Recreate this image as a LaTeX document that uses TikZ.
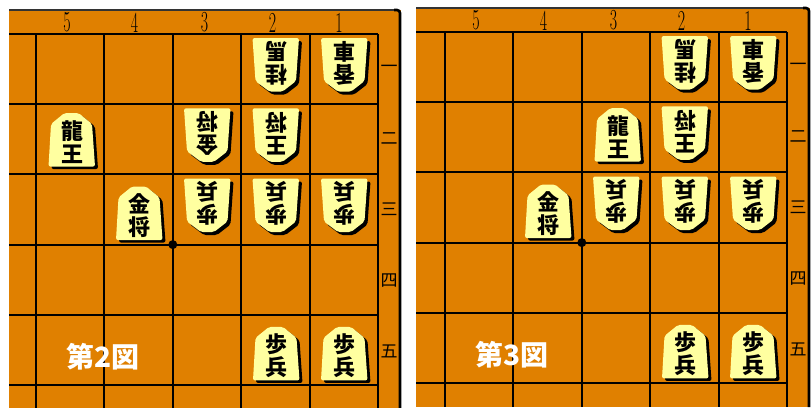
\documentclass[tikz,border=0pt]{standalone}
\usepackage{fontspec}
\newfontfamily\cjk{Noto Sans CJK JP}
\definecolor{boardc}{RGB}{224,128,0}
\definecolor{piecec}{RGB}{255,255,160}
\tikzset{
  gridline/.style={black, line width=2.1pt},
  kanji/.style={font=\cjk\bfseries\fontsize{22}{23}\selectfont, align=center, inner sep=0pt, text=black},
  filelabel/.style={font=\fontsize{29}{29}\selectfont, xscale=0.55, inner sep=0pt, text=black},
  ranklabel/.style={font=\cjk\fontsize{17}{17}\selectfont, inner sep=0pt, text=black},
  figlabel/.style={font=\cjk\bfseries\fontsize{28}{28}\selectfont, inner sep=0pt, text=white},
  piecebody/.style={fill=piecec, rounded corners=2pt},
  pieceshadow/.style={fill=black, rounded corners=2pt},
  stardot/.style={circle, fill=black, inner sep=0pt, minimum size=9pt},
}
\newcommand\sentepiece[5]{%
  \begin{scope}[shift={(#2,#3)}]
    \fill[pieceshadow] (-20.5,29) -- (-18,-13.5) -- (-4.5,-24.5) -- (9.5,-24.5) -- (23,-13.5) -- (26,29) -- cycle;
    \fill[piecebody] (-23.5,26.5) -- (-21,-16) -- (-7.5,-27) -- (6.5,-27) -- (20,-16) -- (23,26.5) -- cycle;
    \node[kanji] (#1) at (0,2) {#4\\#5};
  \end{scope}}
\newcommand\gotepiece[5]{%
  \begin{scope}[shift={(#2,#3)}]
    \fill[pieceshadow] (-20.5,-24) -- (26,-24) -- (23,19) -- (9.5,29.5) -- (-3.5,29.5) -- (-17.5,19) -- cycle;
    \fill[piecebody] (-23.5,-27) -- (23,-27) -- (20,16) -- (6.5,26.5) -- (-6.5,26.5) -- (-20.5,16) -- cycle;
    \node[kanji, rotate=180] (#1) at (0,-2) {#4\\#5};
  \end{scope}}
\newcommand\shogiboard[3]{%
  \fill[boardc] (#2,10) rectangle (401,409);
  \draw[black!80, line width=1.2pt] (#2,10) -- (397,10);
  \draw[black, line width=2.6pt, rounded corners=3pt] (394,10) -- (400,10) -- (400,409);
  \foreach \gx in {36,104.4,172.8,241.2,309.6,378} \draw[gridline] (\gx,34) -- (\gx,409);
  \foreach \gy in {34,104.2,174.4,244.6,314.8,385} \draw[gridline] (#2,\gy) -- (378,\gy);
  \node[filelabel] (#1f5) at (67,22.5) {5};
  \node[filelabel] (#1f4) at (134.5,22.5) {4};
  \node[filelabel] (#1f3) at (204.5,22.5) {3};
  \node[filelabel] (#1f2) at (272.5,22.5) {2};
  \node[filelabel] (#1f1) at (339,22.5) {1};
  \node[ranklabel] (#1r1) at (389,69) {一};
  \node[ranklabel] (#1r2) at (389,139) {二};
  \node[ranklabel] (#1r3) at (389,209) {三};
  \node[ranklabel] (#1r4) at (389,281) {四};
  \node[ranklabel] (#1r5) at (389,351) {五};
  \node[stardot] (#1dot) at (172.8,244.6) {};
  \node[figlabel] (#1cap) at (103,357) {第#3図};
}
\begin{document}
\begin{tikzpicture}[x=1pt, y=-1pt]
\path[use as bounding box] (0,0) rectangle (811,407);
\clip (0,0) rectangle (811,407);
\fill[white] (0,0) rectangle (811,407);
% left panel: figure 2
\begin{scope}
  \shogiboard{L}{9}{2}
  \gotepiece{Lky}{344.5}{65.1}{香}{車}
  \gotepiece{Lke}{276}{65.1}{桂}{馬}
  \gotepiece{Lou}{276}{135.3}{王}{将}
  \gotepiece{Lki}{207.5}{135.3}{金}{将}
  \sentepiece{Lry}{72}{140}{龍}{王}
  \sentepiece{Lkin}{139.5}{213.5}{金}{将}
  \gotepiece{Lfu3}{207.5}{205.5}{歩}{兵}
  \gotepiece{Lfu2}{276}{205.5}{歩}{兵}
  \gotepiece{Lfu1}{344.5}{205.5}{歩}{兵}
  \sentepiece{Lfub}{276.5}{353.9}{歩}{兵}
  \sentepiece{Lfua}{344.5}{353.9}{歩}{兵}
\end{scope}
% right panel: figure 3
\begin{scope}[shift={(409,-2)}]
  \shogiboard{R}{7}{3}
  \gotepiece{Rky}{344.5}{65.1}{香}{車}
  \gotepiece{Rke}{276}{65.1}{桂}{馬}
  \gotepiece{Rou}{276}{135.3}{王}{将}
  \sentepiece{Rry}{209}{137}{龍}{王}
  \sentepiece{Rkin}{139.5}{213.5}{金}{将}
  \gotepiece{Rfu3}{207.5}{205.5}{歩}{兵}
  \gotepiece{Rfu2}{276}{205.5}{歩}{兵}
  \gotepiece{Rfu1}{344.5}{205.5}{歩}{兵}
  \sentepiece{Rfub}{276.5}{353.9}{歩}{兵}
  \sentepiece{Rfua}{344.5}{353.9}{歩}{兵}
\end{scope}
\end{tikzpicture}
\end{document}
